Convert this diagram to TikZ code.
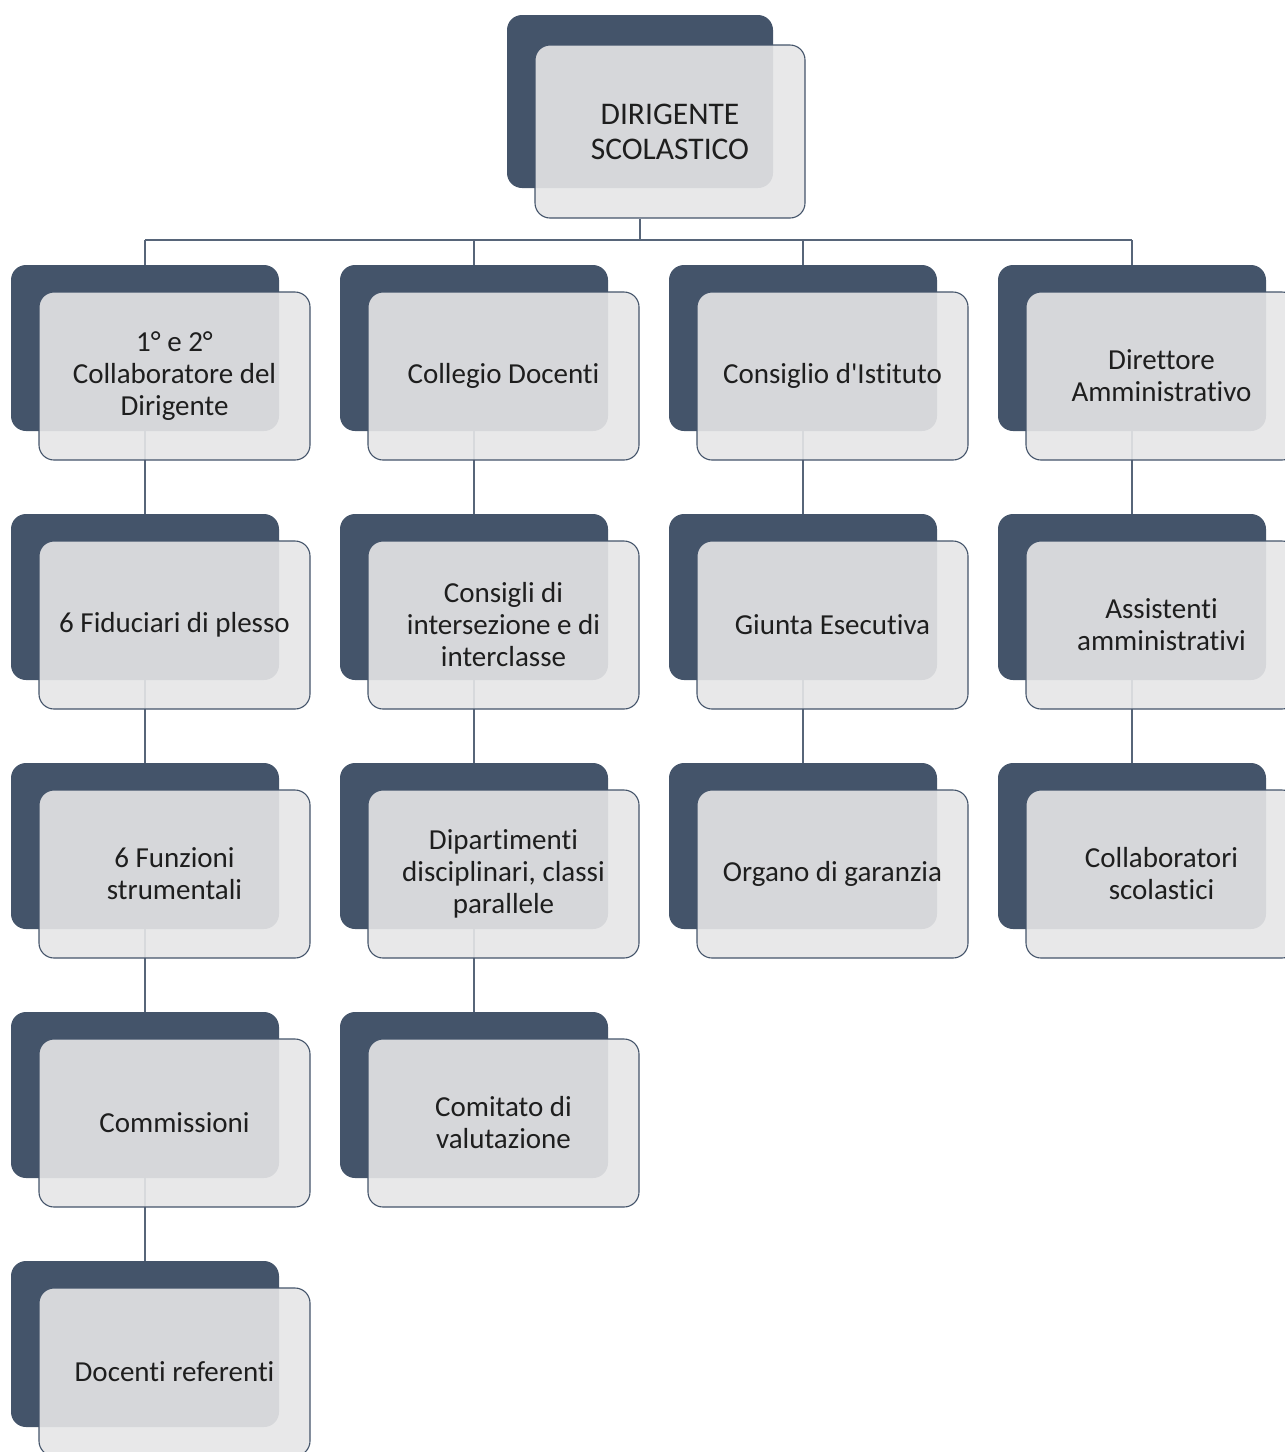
\documentclass[tikz,border=0pt]{standalone}
\usepackage{fontspec}
\setmainfont{Carlito}[Ligatures=CommonOff]
\usetikzlibrary{positioning,calc}
\definecolor{slate}{RGB}{68,84,106}
\definecolor{cardgray}{RGB}{230,230,231}
\definecolor{inkgray}{RGB}{30,30,30}
\pgfdeclarelayer{background}
\pgfsetlayers{background,main}

\begin{document}
\begin{tikzpicture}[x=1pt, y=-1pt,
    backbox/.style={fill=slate, rounded corners=15pt, inner sep=0pt,
      minimum width=268pt, minimum height=166pt},
    frontbox/.style={draw=slate, line width=1.1pt, fill=cardgray, fill opacity=0.9,
      text opacity=1, text=inkgray, rounded corners=15pt, inner sep=0pt, align=center,
      minimum width=271pt, minimum height=168pt, font=\fontsize{29}{32}\selectfont},
    link/.style={draw=slate!90, line width=1.4pt}]
  \useasboundingbox (0,0) rectangle (1285,1452);

  % head of the school
  \node[backbox, minimum width=266pt, minimum height=173pt] (ds-b) at (640,101.5) {};
  \node[frontbox, minimum width=270pt, minimum height=173pt,
    font=\fontsize{31.5}{35}\selectfont] (ds) at (670,131.5) {DIRIGENTE\\SCOLASTICO};

  % the four columns, row by row
  \foreach \n/\x/\y/\txt in {
      collab/145/348/{1° e 2°\\Collaboratore del\\Dirigente},
      fid/145/597/{6 Fiduciari di plesso},
      fun/145/846/{6 Funzioni\\strumentali},
      comm/145/1095/{Commissioni},
      ref/145/1344/{Docenti referenti},
      cdoc/474/348/{Collegio Docenti},
      cint/474/597/{Consigli di\\intersezione e di\\interclasse},
      dip/474/846/{Dipartimenti\\disciplinari, classi\\parallele},
      cval/474/1095/{Comitato di\\valutazione},
      cist/803/348/{Consiglio d\textquotesingle Istituto},
      giu/803/597/{Giunta Esecutiva},
      org/803/846/{Organo di garanzia},
      dsga/1132/348/{Direttore\\Amministrativo},
      ass/1132/597/{Assistenti\\amministrativi},
      cs/1132/846/{Collaboratori\\scolastici}} {
    \node[backbox] (\n-b) at (\x,\y) {};
    \node[frontbox] (\n) at (\x+29.5,\y+28) {\txt};
  }

  % connectors, behind the boxes
  \coordinate (bus) at (0,240);
  \begin{pgfonlayer}{background}
    \draw[link] (ds-b.south |- ds.south) -- (ds-b.south |- bus);
    \draw[link] (collab-b.north |- bus) -- (dsga-b.north |- bus);
    \foreach \n in {collab,cdoc,cist,dsga}
      \draw[link] (\n-b.north |- bus) -- (\n-b.north);
    \foreach \a/\b in {collab/fid, fid/fun, fun/comm, comm/ref,
        cdoc/cint, cint/dip, dip/cval, cist/giu, giu/org, dsga/ass, ass/cs}
      \draw[link] (\a-b.south) -- (\b-b.north);
  \end{pgfonlayer}
\end{tikzpicture}
\end{document}
